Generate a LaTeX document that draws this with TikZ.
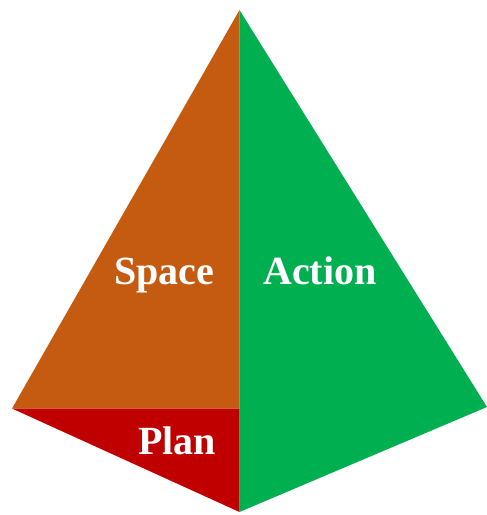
\documentclass[tikz,border=0pt]{standalone}
\usepackage{fontspec}
\setmainfont{Liberation Serif}
\definecolor{orangeF}{HTML}{C55A11}
\definecolor{redF}{HTML}{C00000}
\definecolor{greenF}{HTML}{00B050}
\begin{document}
\begin{tikzpicture}[x=1pt,y=-1pt,
  lbl/.style={text=white,font=\fontsize{40}{42}\selectfont\bfseries,anchor=base,inner sep=0pt}]
\useasboundingbox (0,0) rectangle (487,515);
\coordinate (apex) at (239.5,10);
\coordinate (L) at (12,408.5);
\coordinate (R) at (487,407);
\coordinate (B) at (239.5,512);
\coordinate (M) at (239.5,408.5);
\fill[orangeF] (apex) -- (L) -- (M) -- cycle;
\fill[redF] (L) -- (M) -- (B) -- cycle;
\fill[greenF] (apex) -- (R) -- (B) -- cycle;
\node[lbl] (space) at (164,284) {Space};
\node[lbl] (action) at (320,284) {Action};
\node[lbl] (plan) at (177,454) {Plan};
\end{tikzpicture}
\end{document}
